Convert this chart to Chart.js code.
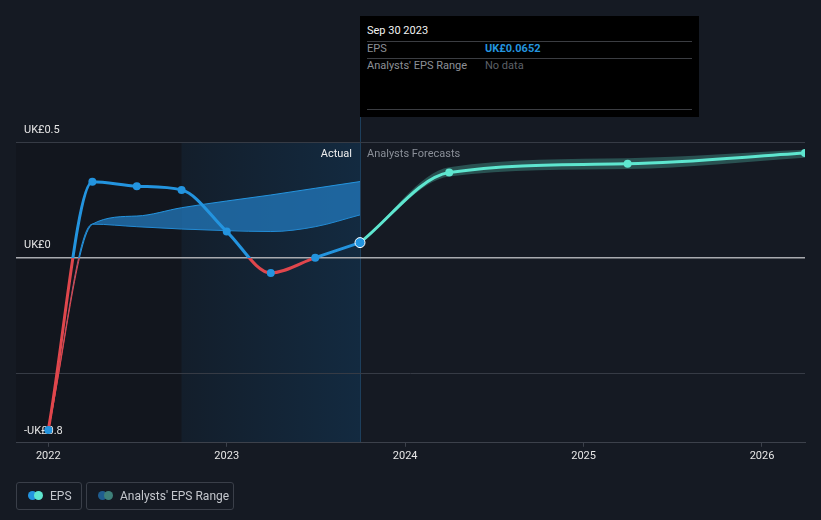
<!DOCTYPE html>
<html lang="en">
<head>
<meta charset="UTF-8">
<title>EPS</title>
<script src="https://cdn.jsdelivr.net/npm/chart.js"></script>
<style>
  body { margin: 0; background: #151a23; font-family: Roboto, "Noto Sans", sans-serif; }
  #wrap { position: relative; width: 821px; height: 520px; }
  .tip { position: absolute; left: 360px; top: 16px; width: 339px; height: 101px; background: #000; }
  .tip div { position: absolute; font-size: 11px; white-space: nowrap; }
  .tip .rule { height: 1px; background: #3b3d42; left: 7px; width: 325px; }
  .leg { position: absolute; top: 482px; height: 26px; border: 1px solid #3a3f49; border-radius: 3px; }
  .leg span { position: absolute; top: 6px; font-size: 12px; color: #c4c7cd; white-space: nowrap; }
  .dot { position: absolute; top: 8px; width: 9px; height: 9px; border-radius: 50%; }
</style>
</head>
<body>
<div id="wrap">
  <canvas id="grafico" width="821" height="520"></canvas>

  <div class="tip">
    <div style="left:7px;top:8px;color:#f2f2f2;">Sep 30 2023</div>
    <div class="rule" style="top:25px;"></div>
    <div style="left:7px;top:26px;color:#8d9097;">EPS</div>
    <div style="left:125px;top:26px;color:#2394df;font-weight:bold;">UK£0.0652</div>
    <div class="rule" style="top:42px;"></div>
    <div style="left:7px;top:43px;color:#8d9097;">Analysts' EPS Range</div>
    <div style="left:125px;top:43px;color:#5d6168;">No data</div>
    <div class="rule" style="top:93px;"></div>
  </div>

  <div class="leg" style="left:16px;width:64px;">
    <div class="dot" style="left:11px;background:#2394df;"></div>
    <div class="dot" style="left:17px;background:#5ee6cf;"></div>
    <span style="left:33px;">EPS</span>
  </div>
  <div class="leg" style="left:86px;width:146px;">
    <div class="dot" style="left:11px;background:#1f5d8f;"></div>
    <div class="dot" style="left:17px;background:#3e8079;"></div>
    <span style="left:33px;">Analysts' EPS Range</span>
  </div>
</div>

<script>
// fechas como año decimal (fin de trimestre)
const fechasReales = [2022.0, 2022.247, 2022.496, 2022.747, 2023.0, 2023.247, 2023.496, 2023.747];
const epsReal      = [-0.745, 0.328, 0.309, 0.293, 0.113, -0.066, 0.0, 0.0652];

const fechasPrevision = [2023.747, 2024.247, 2025.247, 2026.241];
const epsPrevision    = [0.0652, 0.368, 0.406, 0.452];
const rangoPrevAlto   = [0.0652, 0.391, 0.430, 0.466];
const rangoPrevBajo   = [0.0652, 0.351, 0.383, 0.432];

const rangoHistAlto = [-0.745, 0.145, 0.18, 0.216, 0.245, 0.271, 0.30, 0.329];
const rangoHistBajo = [-0.745, 0.145, 0.134, 0.124, 0.117, 0.113, 0.134, 0.185];

const años = [2022, 2023, 2024, 2025, 2026];
const ticksY = [-0.8, -0.5, 0, 0.5];
const etiquetasY = { '0.5': 'UK£0.5', '0': 'UK£0', '-0.8': '-UK£0.8', '-0.5': '' };

const AZUL = '#2394df';
const ROJO = '#e0464c';
const CIAN = '#5ee6cf';

function pares(xs, ys) {
    return xs.map((x, i) => ({ x: x, y: ys[i] }));
}

// azul arriba de cero, rojo abajo
function colorPorSigno(ctx) {
    const chart = ctx.chart;
    const area = chart.chartArea;
    if (!area) return AZUL;
    const y0 = chart.scales.y.getPixelForValue(0);
    const s = Math.min(1, Math.max(0, (y0 - area.top) / (area.bottom - area.top)));
    const g = chart.ctx.createLinearGradient(0, area.top, 0, area.bottom);
    g.addColorStop(0, AZUL);
    g.addColorStop(s, AZUL);
    g.addColorStop(s, ROJO);
    g.addColorStop(1, ROJO);
    return g;
}

const fondo = {
    id: 'fondo',
    beforeDraw(chart) {
        const { ctx, chartArea: a, scales: { x } } = chart;
        const xIni = x.getPixelForValue(fechasReales[3]);
        const xFin = x.getPixelForValue(fechasReales[7]);
        ctx.save();
        ctx.fillStyle = '#12161e';
        ctx.fillRect(a.left, a.top, xIni - a.left, a.bottom - a.top);
        const g = ctx.createLinearGradient(xIni, 0, xFin, 0);
        g.addColorStop(0, '#131e2b');
        g.addColorStop(1, '#132a40');
        ctx.fillStyle = g;
        ctx.fillRect(xIni, a.top, xFin - xIni, a.bottom - a.top);
        ctx.strokeStyle = '#1d3f5c';
        ctx.lineWidth = 1;
        ctx.beginPath();
        ctx.moveTo(Math.round(xFin) + 0.5, 16);
        ctx.lineTo(Math.round(xFin) + 0.5, a.bottom);
        ctx.stroke();
        ctx.restore();
    },
    afterDatasetsDraw(chart) {
        const { ctx, chartArea: a, scales: { x } } = chart;
        const xFin = x.getPixelForValue(fechasReales[7]);
        ctx.save();
        ctx.font = '11px Roboto, "Noto Sans", sans-serif';
        ctx.textBaseline = 'middle';
        ctx.textAlign = 'right';
        ctx.fillStyle = '#eeeeee';
        ctx.fillText('Actual', xFin - 8, a.top + 12);
        ctx.textAlign = 'left';
        ctx.fillStyle = '#8a8f98';
        ctx.fillText('Analysts Forecasts', xFin + 7, a.top + 12);
        ctx.restore();
    }
};

const ctx = document.getElementById('grafico').getContext('2d');
new Chart(ctx, {
    type: 'line',
    data: {
        datasets: [
            { data: pares(fechasReales, epsReal), borderColor: colorPorSigno, borderWidth: 3,
              pointRadius: [4, 4, 4, 4, 4, 4, 4, 5], pointBackgroundColor: AZUL,
              pointBorderColor: [AZUL, AZUL, AZUL, AZUL, AZUL, AZUL, AZUL, '#ffffff'],
              pointBorderWidth: [0, 0, 0, 0, 0, 0, 0, 1], fill: false, order: 0 },
            { data: pares(fechasPrevision, epsPrevision), borderColor: CIAN, borderWidth: 3,
              pointRadius: [0, 4, 4, 4], pointBackgroundColor: CIAN, pointBorderWidth: 0,
              fill: false, order: 1 },
            { data: pares(fechasReales, rangoHistAlto), borderColor: colorPorSigno, borderWidth: 1,
              pointRadius: 0, fill: '+1', backgroundColor: 'rgba(35,125,195,0.72)', order: 5 },
            { data: pares(fechasReales, rangoHistBajo), borderColor: colorPorSigno, borderWidth: 1,
              pointRadius: 0, fill: false, order: 5 },
            { data: pares(fechasPrevision, rangoPrevAlto), borderColor: 'rgba(0,0,0,0)', borderWidth: 0,
              pointRadius: 0, fill: '+1', backgroundColor: 'rgba(62,135,127,0.5)', order: 6 },
            { data: pares(fechasPrevision, rangoPrevBajo), borderColor: 'rgba(0,0,0,0)', borderWidth: 0,
              pointRadius: 0, fill: false, order: 6 }
        ]
    },
    options: {
        responsive: false,
        animation: false,
        cubicInterpolationMode: 'monotone',
        layout: { padding: { left: 0, right: 16, top: 142, bottom: 54 } },
        plugins: { legend: { display: false }, tooltip: { enabled: false } },
        scales: {
            x: {
                type: 'linear', min: 2021.819, max: 2026.241,
                afterBuildTicks: s => { s.ticks = años.map(v => ({ value: v })); },
                ticks: { color: '#e6e6e6', font: { size: 11, family: 'Roboto' }, padding: 3,
                         callback: v => String(v) },
                grid: { display: true, drawOnChartArea: false, tickLength: 4, color: '#3c414b' },
                border: { color: '#3c414b', width: 1 }
            },
            y: {
                min: -0.8, max: 0.5,
                afterBuildTicks: s => { s.ticks = ticksY.map(v => ({ value: v })); },
                ticks: { mirror: true, padding: 8, labelOffset: -12, color: '#e6e6e6',
                         font: { size: 11, family: 'Roboto' },
                         callback: v => etiquetasY[String(v)] },
                grid: { drawTicks: false,
                        color: c => c.tick && c.tick.value === 0 ? '#a9abb0' : '#363b45',
                        lineWidth: c => c.tick && c.tick.value === 0 ? 1.5 : 1 },
                border: { display: false }
            }
        }
    },
    plugins: [fondo]
});
</script>
</body>
</html>
